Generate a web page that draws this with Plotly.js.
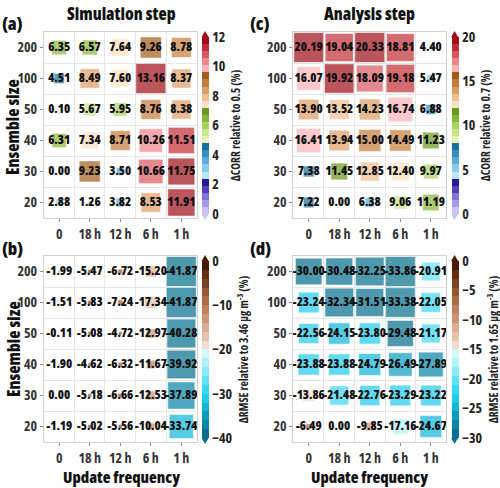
<!DOCTYPE html>
<html>
<head>
<meta charset="utf-8">
<script src="https://cdn.plot.ly/plotly-3.0.1.min.js"></script>
<style>html,body{margin:0;padding:0;background:#fff;}#chart{width:500px;height:488px;}
svg text{font-stretch:condensed !important;}</style>
</head>
<body>
<div id="chart"></div>
<script>
// ---------------- data ----------------
const freqLabels = ['0', '18 h', '12 h', '6 h', '1 h'];
const ensembleLabels = ['200', '100', '50', '40', '30', '20']; // top to bottom

// (a) Simulation step, ΔCORR relative to 0.5 (%)
const simCorr = [
  [6.35, 6.57, 7.64, 9.26, 8.78],
  [4.51, 8.49, 7.60, 13.16, 8.37],
  [0.10, 5.67, 5.95, 8.76, 8.38],
  [6.31, 7.34, 8.71, 10.26, 11.51],
  [0.00, 9.23, 3.50, 10.66, 11.75],
  [2.88, 1.26, 3.82, 8.53, 11.91]
];
// (c) Analysis step, ΔCORR relative to 0.7 (%)
const anaCorr = [
  [20.19, 19.04, 20.33, 18.81, 4.40],
  [16.07, 19.92, 18.09, 19.18, 5.47],
  [13.90, 13.52, 14.23, 16.74, 6.88],
  [16.41, 13.94, 15.00, 14.49, 11.23],
  [7.38, 11.45, 12.85, 12.40, 9.97],
  [7.22, 0.00, 6.38, 9.06, 11.19]
];
// (b) Simulation step, ΔRMSE relative to 3.46 μg m-3 (%)
const simRmse = [
  [-1.99, -5.47, -6.72, -15.20, -41.87],
  [-1.51, -5.83, -7.24, -17.34, -41.87],
  [-0.11, -5.08, -4.72, -12.97, -40.28],
  [-1.90, -4.62, -6.32, -11.67, -39.92],
  [0.00, -5.18, -6.66, -12.53, -37.89],
  [-1.19, -5.02, -5.56, -10.04, -33.74]
];
// (d) Analysis step, ΔRMSE relative to 1.65 μg m-3 (%)
const anaRmse = [
  [-30.00, -30.48, -32.25, -33.86, -20.91],
  [-23.24, -32.34, -31.51, -33.38, -22.05],
  [-22.56, -24.15, -23.80, -29.48, -21.17],
  [-23.88, -23.88, -24.79, -26.49, -27.89],
  [-13.86, -21.48, -22.76, -23.29, -23.22],
  [-6.49, 0.00, -9.85, -17.16, -24.67]
];

// colour palettes (low -> high)
const corrColors = [
  '#cbc3f5', '#a79be9', '#8474da', '#5040bb', '#261b95',
  '#b6e6f9', '#88cbec', '#5cacd8', '#3290c3', '#17709f',
  '#e6f6b2', '#c9e68c', '#a9d262', '#87b738', '#6a9a1d',
  '#fde0c0', '#f0c091', '#dd9e66', '#c47d3c', '#a35c1a',
  '#fbb3b8', '#ec868c', '#d95860', '#c12d36', '#9d0e18'
];
const rmseColors = [
  '#066e8e', '#0786a8', '#0b9dc1', '#12b6d9', '#20cbed',
  '#3ad8f5', '#62e2f8', '#8beafa', '#b0f2fc', '#d3f9fd',
  '#f3dccd', '#e7c4ae', '#dbad92', '#cd9677', '#bf815e',
  '#ad6b45', '#985631', '#7f4220', '#642e12', '#451c08'
];

// ---------------- helpers ----------------
const FONT = "'Open Sans', 'Noto Sans', sans-serif";
const W = 500, H = 488;
const px = v => v / W;
const py = v => 1 - v / H;

function discrete(colors) {
  const n = colors.length, s = [];
  colors.forEach((c, i) => { s.push([i / n, c]); s.push([(i + 1) / n, c]); });
  return s;
}

const panels = [
  {key: 'a', data: simCorr, colors: corrColors, cmin: 0, cmax: 12, tick: [0, 2, 4, 6, 8, 10, 12],
   left: 44, right: 197, top: 32, bottom: 218, xa: 'x', ya: 'y',
   cbTitle: 'ΔCORR relative to 0.5 (%)'},
  {key: 'b', data: simRmse, colors: rmseColors, cmin: -40, cmax: 0, tick: [-40, -30, -20, -10, 0],
   left: 44, right: 197, top: 256, bottom: 442, xa: 'x2', ya: 'y2',
   cbTitle: 'ΔRMSE relative to 3.46 μg m<sup>-3</sup> (%)'},
  {key: 'c', data: anaCorr, colors: corrColors, cmin: 0, cmax: 20, tick: [0, 5, 10, 15, 20],
   left: 294, right: 447, top: 32, bottom: 218, xa: 'x3', ya: 'y3',
   cbTitle: 'ΔCORR relative to 0.7 (%)'},
  {key: 'd', data: anaRmse, colors: rmseColors, cmin: -30, cmax: 0, tick: [-30, -25, -20, -15, -10, -5, 0],
   left: 294, right: 447, top: 256, bottom: 442, xa: 'x4', ya: 'y4',
   cbTitle: 'ΔRMSE relative to 1.65 μg m<sup>-3</sup> (%)'}
];

const traces = [];
const shapes = [];
const layout = {
  width: W, height: H,
  margin: {l: 0, r: 0, t: 0, b: 0, pad: 0},
  paper_bgcolor: '#fff', plot_bgcolor: '#fff',
  showlegend: false,
  font: {family: FONT, color: '#222'},
  annotations: []
};

panels.forEach((p) => {
  const cellW = (p.right - p.left) / 5, cellH = (p.bottom - p.top) / 6;
  const cell = Math.min(cellW, cellH) * 0.98;
  let maxAbs = 0;
  p.data.forEach(r => r.forEach(v => { maxAbs = Math.max(maxAbs, Math.abs(v)); }));
  const xs = [], ys = [], vals = [], sizes = [], texts = [];
  p.data.forEach((row, i) => row.forEach((v, j) => {
    xs.push(j); ys.push(5 - i); vals.push(v);
    sizes.push(cell * Math.abs(v) / maxAbs);
    texts.push(v.toFixed(2));
  }));
  const cbLeft = p.right + 5, cbThick = 7;
  const cbTop = p.top + 5, cbBottom = p.bottom - 4;
  traces.push({
    type: 'scatter', mode: 'markers+text', xaxis: p.xa, yaxis: p.ya,
    x: xs, y: ys, text: texts, textposition: 'middle center',
    textfont: {family: FONT, size: 12.5, color: '#111', weight: 800},
    hoverinfo: 'skip', cliponaxis: false,
    marker: {
      symbol: 'square', size: sizes, color: vals,
      colorscale: discrete(p.colors), cmin: p.cmin, cmax: p.cmax,
      line: {color: 'rgba(255,255,255,0.55)', width: 1},
      showscale: true,
      colorbar: {
        x: px(cbLeft), xanchor: 'left', xpad: 0,
        y: py((cbTop + cbBottom) / 2), yanchor: 'middle', ypad: 0,
        len: (cbBottom - cbTop) / H, lenmode: 'fraction',
        thickness: cbThick, thicknessmode: 'pixels',
        outlinewidth: 0, ticks: '', tickvals: p.tick,
        tickfont: {family: FONT, size: 14, color: '#222', weight: 700},
        title: {text: p.cbTitle, side: 'right', font: {family: FONT, size: 11.5, color: '#222', weight: 700}}
      }
    }
  });
  const cx = cbLeft + cbThick / 2;
  shapes.push({type: 'path', xref: 'paper', yref: 'paper', line: {width: 0},
    fillcolor: p.colors[p.colors.length - 1],
    path: `M${px(cbLeft)},${py(cbTop)} L${px(cbLeft + cbThick)},${py(cbTop)} L${px(cx)},${py(cbTop - 6)} Z`});
  shapes.push({type: 'path', xref: 'paper', yref: 'paper', line: {width: 0},
    fillcolor: p.colors[0],
    path: `M${px(cbLeft)},${py(cbBottom)} L${px(cbLeft + cbThick)},${py(cbBottom)} L${px(cx)},${py(cbBottom + 6)} Z`});

  const axName = p.xa === 'x' ? 'xaxis' : 'xaxis' + p.xa.slice(1);
  const ayName = p.ya === 'y' ? 'yaxis' : 'yaxis' + p.ya.slice(1);
  const common = {
    showgrid: false, zeroline: false, showline: true, mirror: true,
    linecolor: '#d0d0d0', linewidth: 1,
    ticks: 'outside', ticklen: 3, tickcolor: '#888', tickangle: 0,
    tickfont: {family: FONT, size: 14, color: '#333', weight: 700},
    minor: {tickmode: 'linear', tick0: 0.5, dtick: 1, showgrid: true, gridcolor: '#e6e6e6', gridwidth: 1, ticks: ''},
    fixedrange: true
  };
  layout[axName] = Object.assign({}, common, {
    domain: [px(p.left), px(p.right)], anchor: p.ya,
    range: [-0.5, 4.5], tickmode: 'array', tickvals: [0, 1, 2, 3, 4], ticktext: freqLabels
  });
  layout[ayName] = Object.assign({}, common, {
    domain: [py(p.bottom), py(p.top)], anchor: p.xa,
    range: [-0.5, 5.5], tickmode: 'array', tickvals: [5, 4, 3, 2, 1, 0], ticktext: ensembleLabels
  });
});
layout.shapes = shapes;

function ann(text, x, y, size, extra) {
  layout.annotations.push(Object.assign({
    text: text, xref: 'paper', yref: 'paper', x: px(x), y: py(y),
    xanchor: 'center', yanchor: 'middle', showarrow: false,
    font: {family: FONT, size: size, color: '#111', weight: 800}
  }, extra || {}));
}
ann('(a)', 13, 23, 18);
ann('(b)', 13, 248, 18);
ann('(c)', 261, 23, 18);
ann('(d)', 261, 248, 18);
ann('Simulation step', 122, 13, 17);
ann('Analysis step', 370, 13, 17);
ann('Ensemble size', 13, 127, 17, {textangle: -90});
ann('Ensemble size', 13, 349, 17, {textangle: -90});
ann('Update frequency', 122, 477, 16);
ann('Update frequency', 370, 477, 16);

Plotly.newPlot('chart', traces, layout, {displayModeBar: false, staticPlot: true});
</script>
</body>
</html>
